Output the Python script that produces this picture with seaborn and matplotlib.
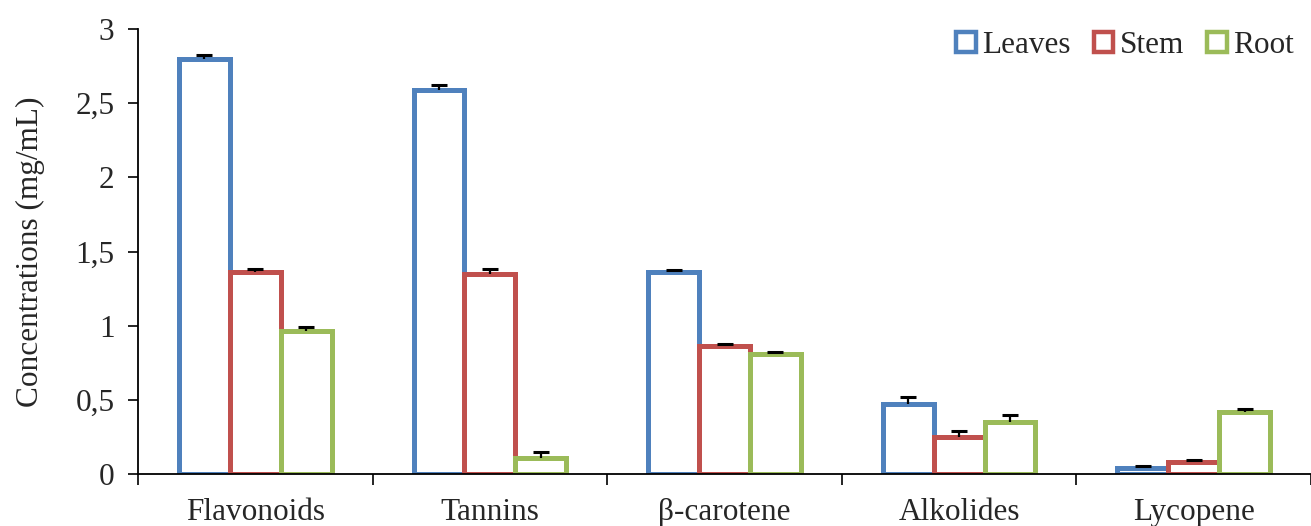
import matplotlib
matplotlib.use("Agg")
import matplotlib.pyplot as plt
import seaborn as sns
import pandas as pd
import numpy as np
from matplotlib.patches import Patch
from matplotlib.ticker import FuncFormatter, FixedLocator

categories = ["Flavonoids", "Tannins", "β-carotene", "Alkolides", "Lycopene"]
series = ["Leaves", "Stem", "Root"]
leaves = [2.80, 2.59, 1.36, 0.47, 0.04]
stem = [1.36, 1.35, 0.86, 0.25, 0.08]
root = [0.965, 0.11, 0.81, 0.35, 0.42]
leaves_err = [0.025, 0.035, 0.012, 0.05, 0.012]
stem_err = [0.025, 0.03, 0.015, 0.04, 0.015]
root_err = [0.025, 0.04, 0.015, 0.045, 0.015]
colors = ["#4F81BD", "#C0504D", "#9BBB59"]
yticks = [0, 0.5, 1, 1.5, 2, 2.5, 3]

rows = []
for s, vals, errs in zip(series, [leaves, stem, root], [leaves_err, stem_err, root_err]):
    for c, v, e in zip(categories, vals, errs):
        rows.append({"category": c, "series": s, "value": v, "err": e})
df = pd.DataFrame(rows)

sns.set_style("white")
plt.rcParams["font.family"] = ["Liberation Serif", "DejaVu Serif"]
FS = 22.5

fig = plt.figure(figsize=(13.11, 5.26), dpi=100)
ax = fig.add_axes([138 / 1311, 52 / 526, 1 - 138 / 1311, (474 - 29) / 526])

sns.barplot(data=df, x="category", y="value", hue="series", order=categories,
            hue_order=series, palette=colors, fill=False, width=0.651,
            linewidth=3.6, errorbar=None, legend=False, ax=ax)

# error bars (upper only, cap at top)
for p in ax.patches:
    xc = p.get_x() + p.get_width() / 2
    h = p.get_height()
    ci = int(round(xc))
    off = xc - ci
    si = int(np.argmin([abs(off - d) for d in (-0.217, 0.0, 0.217)]))
    e = [leaves_err, stem_err, root_err][si][ci]
    ax.errorbar([xc], [h], yerr=[[0], [e]], fmt="none", ecolor="black",
                elinewidth=1.6, capsize=0, zorder=5)
    ax.plot([xc], [h + e], marker="_", markersize=12, markeredgewidth=2.2,
            color="black", zorder=5)

ax.set_xlim(-0.5, 4.5)
ax.set_ylim(0, 3)
ax.set_yticks(yticks)
ax.yaxis.set_major_formatter(FuncFormatter(lambda v, p: ("%g" % v).replace(".", ",")))
ax.set_xticks(range(len(categories)))
ax.set_xticklabels(categories)
ax.xaxis.set_minor_locator(FixedLocator(np.arange(-0.5, 4.6, 1.0)))
ax.tick_params(axis="x", which="major", length=0, labelsize=FS, pad=17)
ax.tick_params(axis="x", which="minor", length=8, width=1.2, direction="out", bottom=True, color="black")
ax.tick_params(axis="y", which="major", length=7, width=1.2, direction="out", left=True,
               labelsize=FS, pad=10, color="black")
for side in ["top", "right"]:
    ax.spines[side].set_visible(False)
for side in ["left", "bottom"]:
    ax.spines[side].set_color("black")
    ax.spines[side].set_linewidth(1.3)
    ax.spines[side].set_zorder(6)
ax.set_xlabel("")
ax.set_ylabel("Concentrations (mg/mL)", fontsize=FS, labelpad=22)

handles = [Patch(facecolor="white", edgecolor=c, linewidth=3.2, label=s) for s, c in zip(series, colors)]
ax.legend(handles=handles, loc="upper right", bbox_to_anchor=(1.004, 1.045), ncol=3, frameon=False,
          fontsize=FS, handlelength=0.62, handleheight=0.62, handletextpad=0.2,
          columnspacing=0.75, borderpad=0.2)

fig.savefig("out.png", dpi=100)
